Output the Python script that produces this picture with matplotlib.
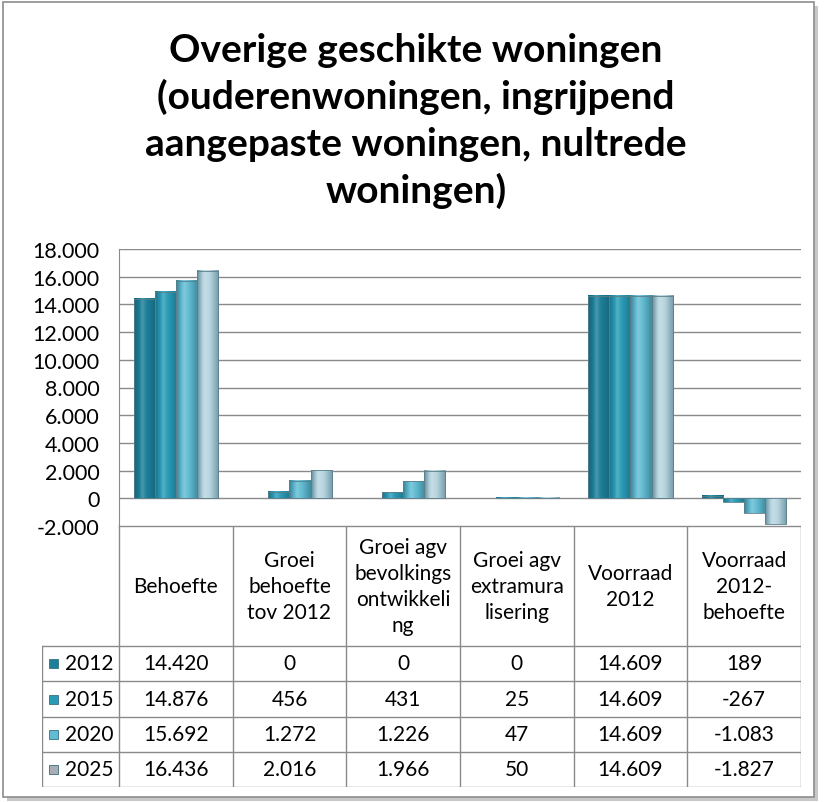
import matplotlib

matplotlib.use("Agg")
import matplotlib.pyplot as plt
import numpy as np
from matplotlib.colors import LinearSegmentedColormap
from matplotlib.patches import Rectangle

plt.rcParams["font.family"] = ["Lato", "DejaVu Sans"]

CATEGORIES = ["Behoefte", "Groei\nbehoefte\ntov 2012", "Groei agv\nbevolkings\nontwikkeli\nng",
              "Groei agv\nextramura\nlisering", "Voorraad\n2012", "Voorraad\n2012-\nbehoefte"]
YEARS = ["2012", "2015", "2020", "2025"]
V2012 = [14420, 0, 0, 0, 14609, 189]
V2015 = [14876, 456, 431, 25, 14609, -267]
V2020 = [15692, 1272, 1226, 47, 14609, -1083]
V2025 = [16436, 2016, 1966, 50, 14609, -1827]
SERIES = [V2012, V2015, V2020, V2025]
COLORS = ["#1d7f99", "#2a9bb6", "#62bbd2", "#b7d4df"]
YTICKS = list(range(-2000, 18001, 2000))

W, H = 828, 803


def fx(px):
    return px / W


def fy(py):
    return 1 - py / H


def nl(v):
    s = f"{abs(v):,}".replace(",", ".")
    return "-" + s if v < 0 else s


fig = plt.figure(figsize=(W / 100, H / 100), dpi=100)

# outer frame with a light shadow
fig.patches.append(Rectangle((fx(7), fy(802)), fx(811), fy(7) - fy(802),
                             transform=fig.transFigure, facecolor="#c8c8c8", edgecolor="none", zorder=-2))
fig.patches.append(Rectangle((fx(3), fy(798)), fx(811), fy(3) - fy(798),
                             transform=fig.transFigure, facecolor="white", edgecolor="#8c8c8c", lw=1.2, zorder=-1))

fig.text(fx(416), fy(121), "Overige geschikte woningen\n(ouderenwoningen, ingrijpend\naangepaste woningen, nultrede\nwoningen)",
         ha="center", va="center", fontsize=28, fontweight="bold", linespacing=1.38)

# plot area
ax = fig.add_axes([fx(119), fy(527), fx(801) - fx(119), fy(250) - fy(527)])
ax.set_zorder(2)
ax.patch.set_alpha(0)
ax.set_xlim(0, len(CATEGORIES))
ax.set_ylim(-2000, 18000)
ax.set_yticks(YTICKS)
ax.set_yticklabels([nl(t) for t in YTICKS], fontsize=15.5)
ax.tick_params(axis="y", length=0, pad=14)
ax.set_xticks([])
ax.grid(axis="y", color="#8a8a8a", lw=1.0)
ax.set_axisbelow(True)
for side in ["top", "right", "bottom"]:
    ax.spines[side].set_visible(False)
ax.spines["left"].set_color("#8a8a8a")

x = np.arange(len(CATEGORIES)) + 0.5
bw = 0.185
# horizontal shading across each bar: darker edges, lighter middle
grad = np.concatenate([np.linspace(0.25, 0.6, 24), np.linspace(0.6, 0.3, 40)]).reshape(1, -1)
for i, (vals, col) in enumerate(zip(SERIES, COLORS)):
    bars = ax.bar(x + (i - 1.5) * bw, vals, bw, color=col, edgecolor="none", zorder=2)
    cmap = LinearSegmentedColormap.from_list("g", ["#0e4656", col, "#ffffff"])
    for b in bars:
        h = b.get_height()
        if h == 0:
            continue
        y0, y1 = sorted([b.get_y(), b.get_y() + h])
        ax.imshow(grad, extent=[b.get_x(), b.get_x() + b.get_width(), y0, y1], aspect="auto",
                  cmap=cmap, vmin=0, vmax=1, zorder=3, interpolation="bicubic")
        ax.add_patch(Rectangle((b.get_x(), y0), b.get_width(), y1 - y0, fill=False,
                               edgecolor="#5a7f8a", lw=0.6, zorder=4))
ax.set_xlim(0, len(CATEGORIES))
ax.set_ylim(-2000, 18000)

# data table
left = -(119 - 42) / ((801 - 119) / len(CATEGORIES))
tx = fig.add_axes([fx(42), fy(788), fx(801) - fx(42), fy(527) - fy(788)])
tx.set_zorder(2)
tx.set_xlim(left, len(CATEGORIES))
tx.set_ylim(788, 527)
tx.axis("off")
rows = [527, 647, 682, 718, 753, 788]
lc = "#8a8a8a"
for c in range(len(CATEGORIES) + 1):
    tx.plot([c, c], [527, 788], color=lc, lw=1.0)
tx.plot([left, left], [647, 788], color=lc, lw=1.0)
tx.plot([0, len(CATEGORIES)], [527, 527], color=lc, lw=1.0)
for r in rows[1:]:
    tx.plot([left, len(CATEGORIES)], [r, r], color=lc, lw=1.0)
for c, lab in enumerate(CATEGORIES):
    tx.text(c + 0.5, 587, lab, ha="center", va="center", fontsize=15, linespacing=1.38)
unit = (801 - 119) / len(CATEGORIES)
key_w = 9 / unit
for r, (year, vals, col) in enumerate(zip(YEARS, SERIES, COLORS)):
    yc = (rows[r + 1] + rows[r + 2]) / 2
    kc = col if r < 3 else "#a8aeb2"
    tx.add_patch(Rectangle((left + 7 / unit, yc - 4.5), key_w, 9, facecolor=kc, edgecolor="#3a6f7e", lw=0.6))
    tx.text(left + 23 / unit, yc, year, ha="left", va="center", fontsize=15)
    for c, v in enumerate(vals):
        tx.text(c + 0.5, yc, nl(v), ha="center", va="center", fontsize=15)

fig.savefig("out.png", dpi=100)
